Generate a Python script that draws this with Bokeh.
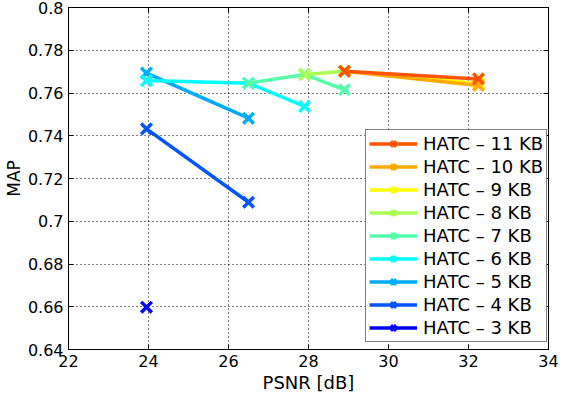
from bokeh.plotting import figure
from bokeh.models import LinearAxis, Legend, LegendItem, FixedTicker
from bokeh.embed import file_html
from bokeh.resources import INLINE

# data
labels = ["HATC \u2013 3 KB", "HATC \u2013 4 KB", "HATC \u2013 5 KB", "HATC \u2013 6 KB",
          "HATC \u2013 7 KB", "HATC \u2013 8 KB", "HATC \u2013 9 KB", "HATC \u2013 10 KB",
          "HATC \u2013 11 KB"]
colors = ["#0000FF", "#0055FF", "#00AAFF", "#00FFFF", "#55FFAA", "#AAFF55",
          "#FFFF00", "#FFAA00", "#FF5500"]
psnr_3 = [23.95]
map_3 = [0.6598]
psnr_4 = [23.95, 26.5]
map_4 = [0.7432, 0.7089]
psnr_5 = [23.95, 26.5]
map_5 = [0.7693, 0.7482]
psnr_6 = [23.95, 26.5, 27.9]
map_6 = [0.7658, 0.7646, 0.7537]
psnr_7 = [26.5, 27.9, 28.9]
map_7 = [0.7646, 0.7687, 0.7615]
psnr_8 = [27.9, 28.9]
map_8 = [0.7687, 0.7702]
psnr_9 = [28.9, 32.25]
map_9 = [0.7702, 0.7645]
psnr_10 = [28.9, 32.25]
map_10 = [0.7702, 0.7635]
psnr_11 = [28.9, 32.25]
map_11 = [0.7702, 0.7666]
x_ticks = [22, 24, 26, 28, 30, 32, 34]
y_ticks = [0.64, 0.66, 0.68, 0.70, 0.72, 0.74, 0.76, 0.78, 0.80]
y_tick_labels = ["0.64", "0.66", "0.68", "0.7", "0.72", "0.74", "0.76", "0.78", "0.8"]

series = [(psnr_3, map_3), (psnr_4, map_4), (psnr_5, map_5), (psnr_6, map_6),
          (psnr_7, map_7), (psnr_8, map_8), (psnr_9, map_9), (psnr_10, map_10),
          (psnr_11, map_11)]

FONT = "DejaVu Sans"

p = figure(width=566, height=396, output_backend="svg", toolbar_location=None,
           x_range=(22, 34), y_range=(0.64, 0.8),
           min_border_left=67, min_border_right=18, min_border_top=7, min_border_bottom=47,
           background_fill_color="white", border_fill_color="white")
p.outline_line_color = "black"
p.outline_line_width = 1

for ax in (p.xaxis[0], p.yaxis[0]):
    ax.major_tick_in = 5
    ax.major_tick_out = 0
    ax.minor_tick_in = 0
    ax.minor_tick_out = 0
    ax.axis_line_color = "black"
    ax.major_tick_line_color = "black"
    ax.major_label_text_font = FONT
    ax.major_label_text_font_size = "16px"
    ax.major_label_text_color = "black"
    ax.axis_label_text_font = FONT
    ax.axis_label_text_font_style = "normal"
    ax.axis_label_text_color = "black"

p.xaxis[0].axis_label_text_font_size = "18px"
p.yaxis[0].axis_label_text_font_size = "17px"
p.xaxis[0].major_label_standoff = 5
p.yaxis[0].major_label_standoff = 5
p.xaxis[0].ticker = FixedTicker(ticks=x_ticks)
p.yaxis[0].ticker = FixedTicker(ticks=y_ticks)
p.yaxis[0].major_label_overrides = {t: l for t, l in zip(y_ticks, y_tick_labels)}
p.xaxis[0].axis_label = "PSNR [dB]"
p.yaxis[0].axis_label = "MAP"
p.xaxis[0].axis_label_standoff = 2
p.yaxis[0].axis_label_standoff = 1

for loc, tk in (("above", x_ticks), ("right", y_ticks)):
    ax = LinearAxis(ticker=FixedTicker(ticks=tk), major_tick_in=5, major_tick_out=0,
                    minor_tick_in=0, minor_tick_out=0,
                    major_label_overrides={t: "" for t in tk},
                    major_label_standoff=0, axis_line_color="black")
    p.add_layout(ax, loc)

p.xgrid.ticker = FixedTicker(ticks=x_ticks)
p.ygrid.ticker = FixedTicker(ticks=y_ticks)
for g in (p.xgrid[0], p.ygrid[0]):
    g.grid_line_color = "black"
    g.grid_line_dash = "1 3"
    g.grid_line_width = 1
    g.grid_line_alpha = 1.0

items = []
for (xs, ys), c, lab in zip(series, colors, labels):
    r1 = p.line(xs, ys, line_color=c, line_width=3.5)
    r2 = p.scatter(xs, ys, marker="x", size=15, line_color=c, line_width=3.5)
    items.append(LegendItem(label=lab, renderers=[r1, r2]))

legend = Legend(items=list(reversed(items)), location=(297, 7),
                label_text_font=FONT, label_text_font_size="18px",
                label_text_color="black", border_line_color="black", border_line_width=1,
                background_fill_alpha=1.0, glyph_width=48, glyph_height=19,
                label_height=19, spacing=2, padding=3, margin=0, label_standoff=6)
p.add_layout(legend, "center")

open("out.html", "w").write(file_html(p, INLINE))
